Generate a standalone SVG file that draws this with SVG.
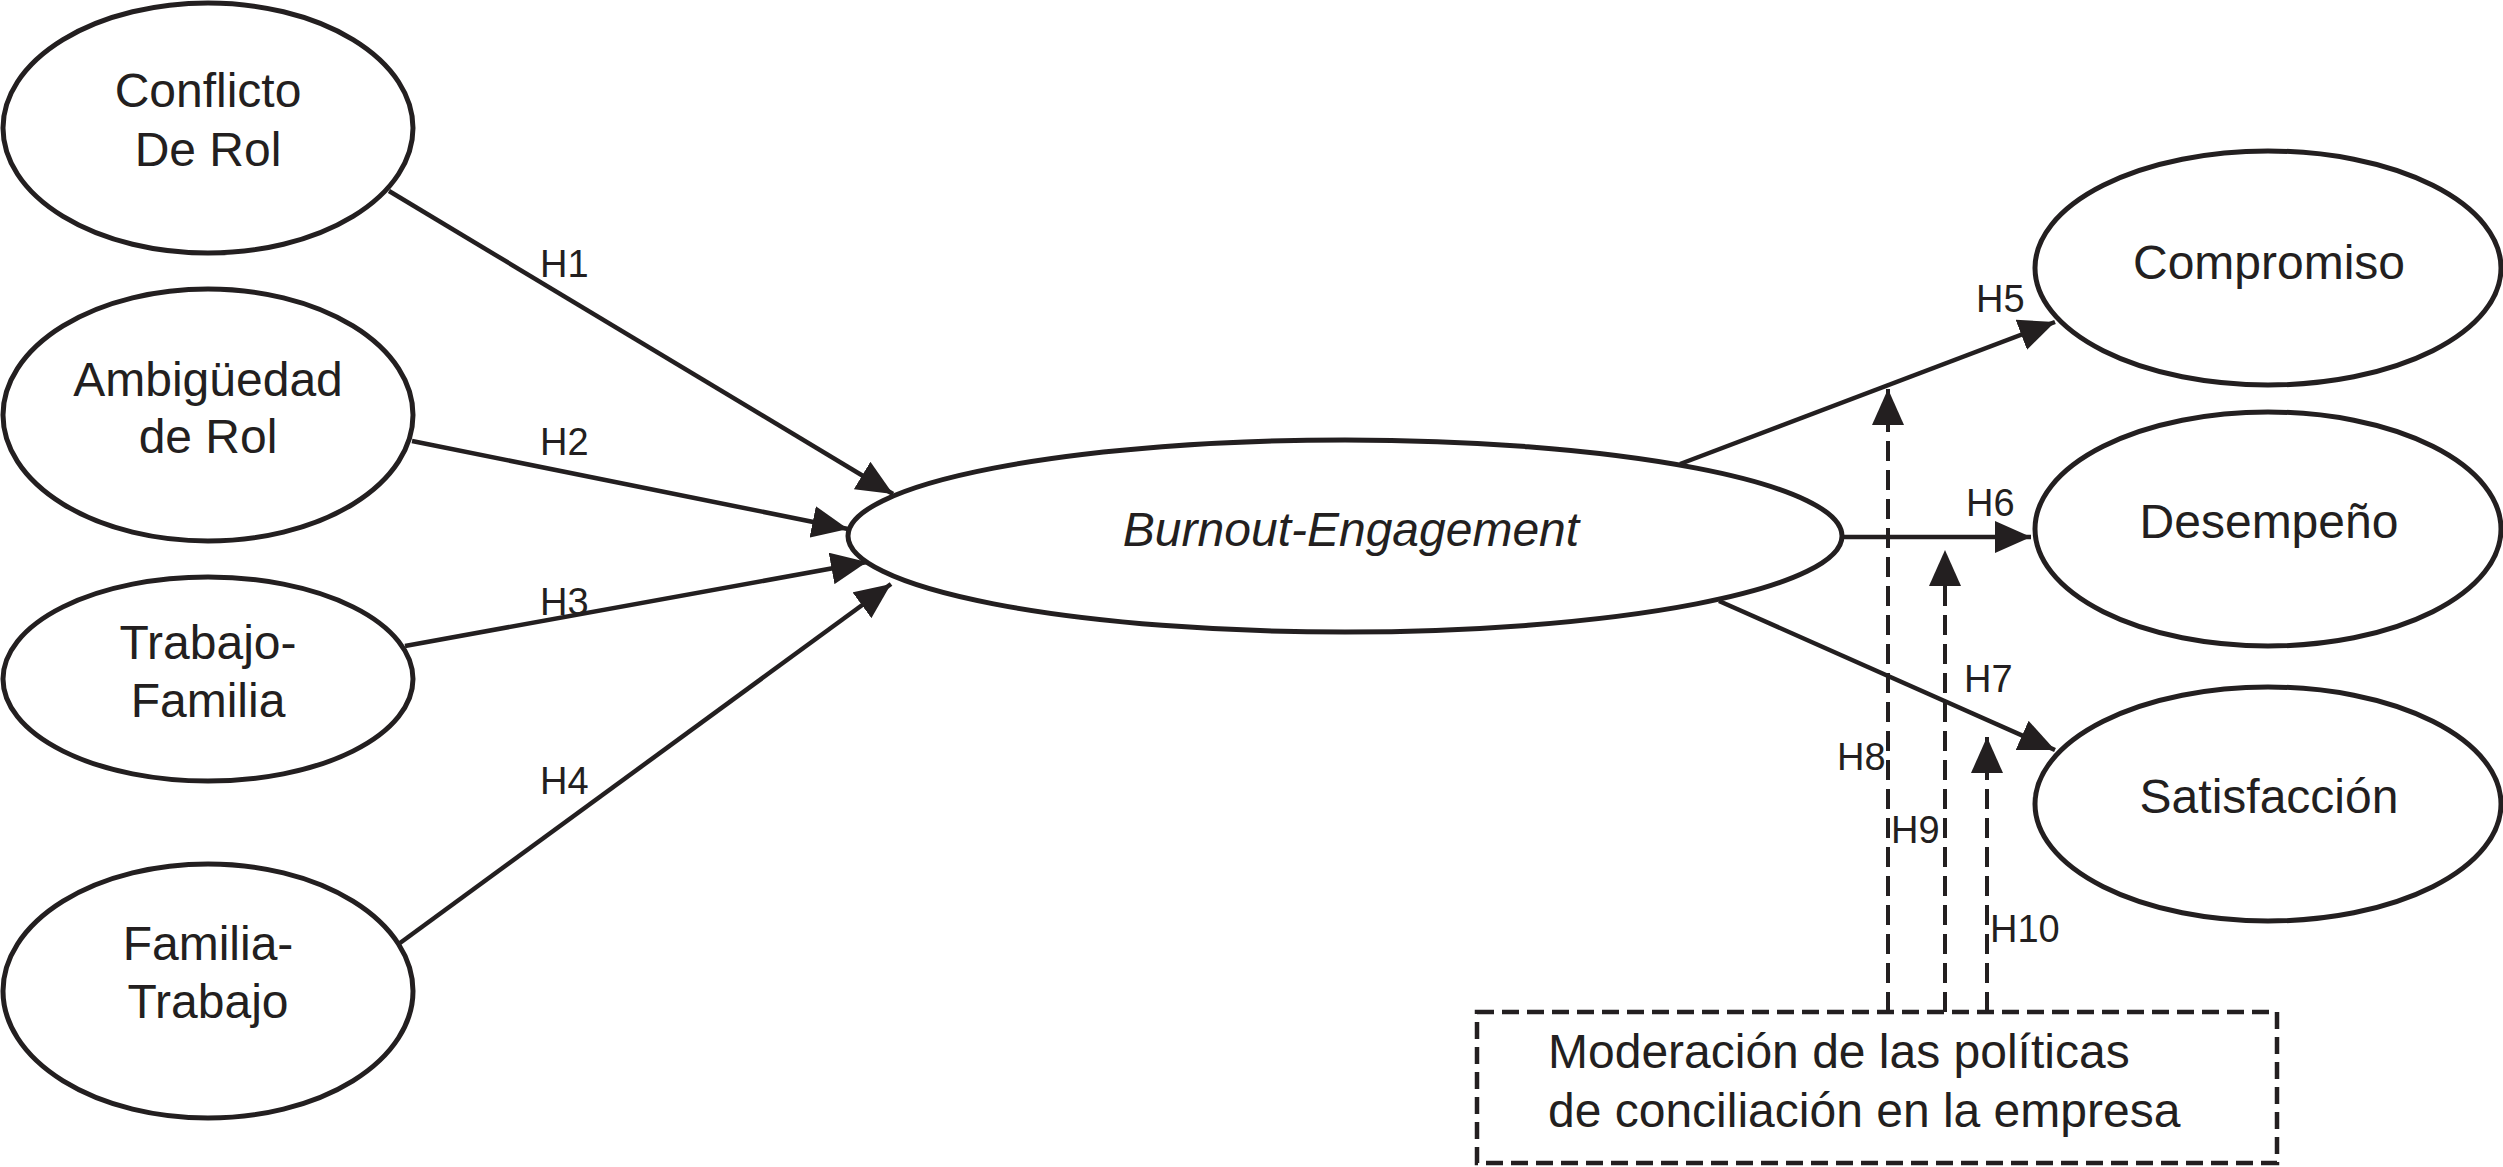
<svg xmlns="http://www.w3.org/2000/svg" width="2503" height="1167" viewBox="0 0 2503 1167">
<style>
.node{fill:#fff;stroke:#231f20;stroke-width:5}
.lbl{font-family:"Liberation Sans",Arial,sans-serif;font-size:48px;fill:#231f20;text-anchor:middle}
.h{font-family:"Liberation Sans",Arial,sans-serif;font-size:38px;fill:#231f20}
.edge{stroke:#231f20;stroke-width:4.5;fill:none}
.dash{stroke:#231f20;stroke-width:4;fill:none;stroke-dasharray:20 9}
.box{fill:#fff;stroke:#231f20;stroke-width:4.5;stroke-dasharray:17 8}
</style>
<defs>
<marker id="arr" viewBox="0 0 36 32" refX="36" refY="16" markerWidth="36" markerHeight="32" markerUnits="userSpaceOnUse" orient="auto">
<path d="M0,0 L36,16 L0,32 z" fill="#231f20"/>
</marker>
</defs>
<rect width="2503" height="1167" fill="#fff"/>
<g id="connectors">
<path class="edge" d="M389,191 L893,494" marker-end="url(#arr)"/>
<path class="edge" d="M412,441 L848,529" marker-end="url(#arr)"/>
<path class="edge" d="M405,646 L867,562" marker-end="url(#arr)"/>
<path class="edge" d="M400,943 L891,584" marker-end="url(#arr)"/>
<path class="edge" d="M1680,464 L2055,322" marker-end="url(#arr)"/>
<path class="edge" d="M1843,537 L2031,537" marker-end="url(#arr)"/>
<path class="edge" d="M1719,601 L2055,750" marker-end="url(#arr)"/>
<path class="dash" d="M1888,1012 L1888,389" marker-end="url(#arr)"/>
<path class="dash" d="M1945,1012 L1945,550" marker-end="url(#arr)"/>
<path class="dash" d="M1987,1012 L1987,737" marker-end="url(#arr)"/>
<text class="h" x="540" y="277">H1</text>
<text class="h" x="540" y="455">H2</text>
<text class="h" x="540" y="615">H3</text>
<text class="h" x="540" y="794">H4</text>
<text class="h" x="1976" y="312">H5</text>
<text class="h" x="1966" y="516">H6</text>
<text class="h" x="1964" y="692">H7</text>
<text class="h" x="1837" y="770">H8</text>
<text class="h" x="1891" y="843">H9</text>
<text class="h" x="1990" y="942">H10</text>
</g>
<g id="conflicto">
<ellipse class="node" cx="208" cy="128" rx="205" ry="125"/>
<text class="lbl" x="208" y="107">Conflicto</text>
<text class="lbl" x="208" y="166">De Rol</text>
</g>
<g id="ambiguedad">
<ellipse class="node" cx="208" cy="415" rx="205" ry="126"/>
<text class="lbl" x="208" y="396">Ambigüedad</text>
<text class="lbl" x="208" y="453">de Rol</text>
</g>
<g id="trabajo-familia">
<ellipse class="node" cx="208" cy="679" rx="205" ry="102"/>
<text class="lbl" x="208" y="659">Trabajo-</text>
<text class="lbl" x="208" y="717">Familia</text>
</g>
<g id="familia-trabajo">
<ellipse class="node" cx="208" cy="991" rx="205" ry="127"/>
<text class="lbl" x="208" y="960">Familia-</text>
<text class="lbl" x="208" y="1018">Trabajo</text>
</g>
<g id="burnout">
<ellipse class="node" cx="1345" cy="536" rx="497" ry="96"/>
<text class="lbl" x="1351" y="546" font-style="italic">Burnout-Engagement</text>
</g>
<g id="compromiso">
<ellipse class="node" cx="2268" cy="268" rx="233" ry="117"/>
<text class="lbl" x="2269" y="279">Compromiso</text>
</g>
<g id="desempeno">
<ellipse class="node" cx="2268" cy="529" rx="233" ry="117"/>
<text class="lbl" x="2269" y="538">Desempeño</text>
</g>
<g id="satisfaccion">
<ellipse class="node" cx="2268" cy="804" rx="233" ry="117"/>
<text class="lbl" x="2269" y="813">Satisfacción</text>
</g>
<g id="moderacion">
<rect class="box" x="1477" y="1012" width="800" height="151"/>
<text class="lbl" x="1548" y="1068" style="text-anchor:start">Moderación de las políticas</text>
<text class="lbl" x="1548" y="1127" style="text-anchor:start">de conciliación en la empresa</text>
</g>
</svg>
